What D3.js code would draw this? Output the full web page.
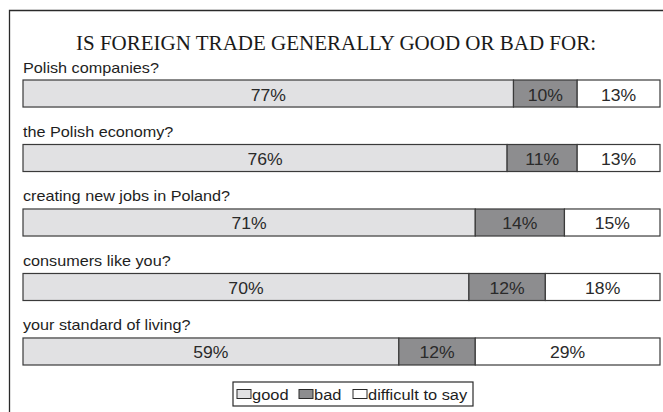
<!DOCTYPE html>
<html>
<head>
<meta charset="utf-8">
<script src="https://cdn.jsdelivr.net/npm/d3@7"></script>
<style>
  html, body { margin: 0; padding: 0; background: #fff; }
  svg { display: block; }
</style>
</head>
<body>
<svg id="chart" width="663" height="412"></svg>
<script>
const title = "IS FOREIGN TRADE GENERALLY GOOD OR BAD FOR:";
const categories = [
  "Polish companies?",
  "the Polish economy?",
  "creating new jobs in Poland?",
  "consumers like you?",
  "your standard of living?"
];
const seriesNames = ["good", "bad", "difficult to say"];
const goodValues = [77, 76, 71, 70, 59];
const badValues = [10, 11, 14, 12, 12];
const difficultValues = [13, 13, 15, 18, 29];
const seriesColors = ["#e1e1e3", "#8d8d8f", "#ffffff"];

const svg = d3.select("#chart");
const SANS = "'Liberation Sans', Arial, sans-serif";

// stretched text helper (reference text is slightly wide)
function wideText(parent, xPos, yPos, txt, size, sx, anchor) {
  return parent.append("text")
    .attr("transform", `translate(${xPos},${yPos}) scale(${sx},1)`)
    .attr("text-anchor", anchor || "start")
    .attr("font-family", SANS)
    .attr("font-size", size)
    .attr("fill", "#1e1e1e")
    .text(txt);
}

// frame
svg.append("path")
  .attr("d", "M9.5,412 L9.5,10.5 L663,10.5")
  .attr("fill", "none")
  .attr("stroke", "#2a2a2a")
  .attr("stroke-width", 1.3);

svg.append("text")
  .attr("x", 336)
  .attr("y", 50)
  .attr("text-anchor", "middle")
  .attr("font-family", "'Liberation Serif', 'Times New Roman', serif")
  .attr("font-size", 21)
  .attr("fill", "#1a1a1a")
  .text(title);

const x = d3.scaleLinear().domain([0, 100]).range([23, 660]);
const y = d3.scaleBand().domain(categories).range([80, 365]).paddingInner(0.581).paddingOuter(0);

const rows = categories.map((c, i) => ({
  cat: c,
  vals: [goodValues[i], badValues[i], difficultValues[i]]
}));

const g = svg.append("g");
rows.forEach(r => {
  const top = y(r.cat);
  const bh = y.bandwidth();
  wideText(g, 23, top - 7.5, r.cat, 15, 1.08);
  let cum = 0;
  r.vals.forEach((v, j) => {
    const x0 = x(cum), x1 = x(cum + v);
    g.append("rect")
      .attr("x", x0)
      .attr("y", top)
      .attr("width", x1 - x0)
      .attr("height", bh)
      .attr("fill", seriesColors[j])
      .attr("stroke", "#3a3a3a")
      .attr("stroke-width", 1.2);
    wideText(g, (x0 + x1) / 2, top + 20.5, v + "%", 16, 1.1, "middle")
      .attr("fill", "#2a2a2a");
    cum += v;
  });
});

// legend
const lg = svg.append("g");
lg.append("rect")
  .attr("x", 233).attr("y", 382).attr("width", 240).attr("height", 24)
  .attr("fill", "#fff").attr("stroke", "#2a2a2a").attr("stroke-width", 1.2);
const legendX = [237, 299, 353];
seriesNames.forEach((n, j) => {
  lg.append("rect")
    .attr("x", legendX[j]).attr("y", 389.5).attr("width", 14).attr("height", 9)
    .attr("fill", seriesColors[j]).attr("stroke", "#2a2a2a").attr("stroke-width", 1);
  wideText(lg, legendX[j] + 15, 400, n, 15.5, 1.06);
});
</script>
</body>
</html>
